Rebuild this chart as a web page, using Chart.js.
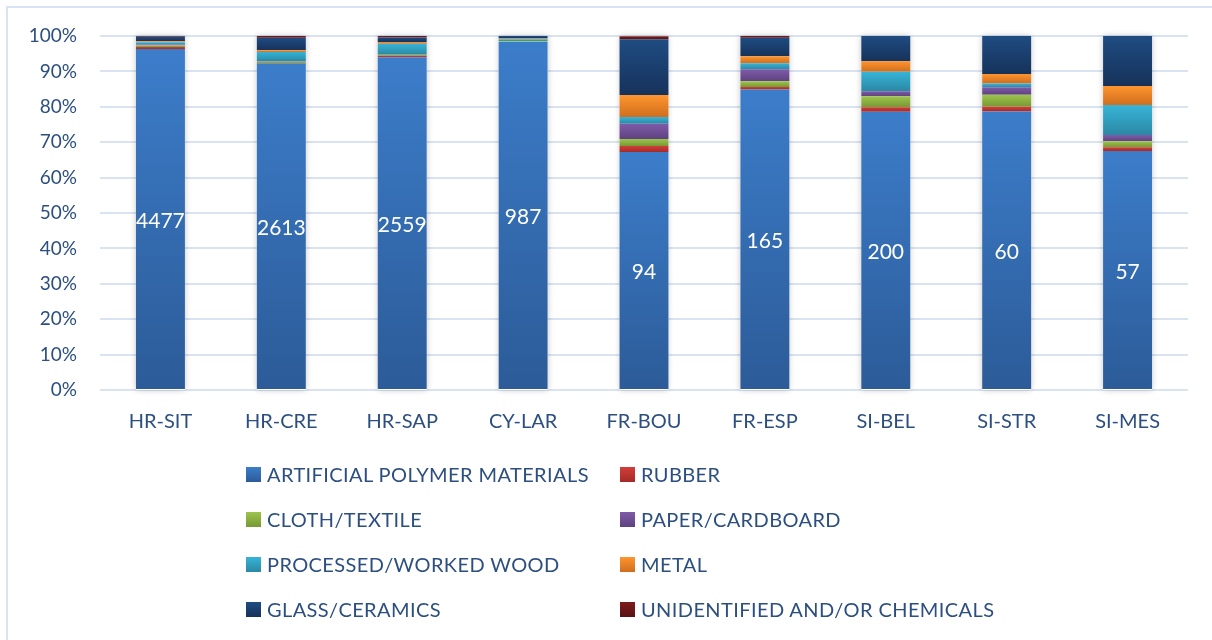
<!DOCTYPE html>
<html>
<head>
<meta charset="utf-8">
<script src="https://cdn.jsdelivr.net/npm/chart.js@4"></script>
<style>
    html, body { margin: 0; padding: 0; background: #fff; }
    #wrap { position: relative; width: 1212px; height: 640px; overflow: hidden; }
    #frame { position: absolute; left: 6px; top: 6px; width: 1220px; height: 660px;
             border-left: 2px solid #dae3f3; border-top: 2px solid #dae3f3; }
    #legend { position: absolute; left: 0; top: 0; width: 1212px; height: 640px;
              font-family: Lato, 'Open Sans', sans-serif; font-size: 20px; letter-spacing: 0.4px; color: #2c4f80; }
    .item { position: absolute; display: flex; align-items: center; height: 24px; white-space: nowrap; }
    .box { width: 15px; height: 15px; margin-right: 6px; }
</style>
</head>
<body>
<div id="wrap">
    <div id="frame"></div>
    <canvas id="chart" width="1212" height="640"></canvas>
    <div id="legend"></div>
</div>
<script>
// Categories (sites) and total item counts shown on the bars
const categories = ['HR-SIT', 'HR-CRE', 'HR-SAP', 'CY-LAR', 'FR-BOU', 'FR-ESP', 'SI-BEL', 'SI-STR', 'SI-MES'];
const itemCounts = [4477, 2613, 2559, 987, 94, 165, 200, 60, 57];

// Share of each material category (%)
const polymer      = [96.3, 92.2, 94.0, 98.3, 67.2, 84.9, 78.6, 78.7, 67.5];
const rubber       = [0.6, 0.2, 0.4, 0.0, 1.7, 0.7, 1.3, 1.3, 1.1];
const cloth        = [0.4, 0.3, 0.3, 0.2, 2.0, 1.6, 3.1, 3.4, 1.7];
const paper        = [0.3, 0.2, 0.0, 0.0, 4.3, 3.4, 1.4, 2.1, 1.7];
const wood         = [0.6, 2.6, 3.1, 0.6, 1.9, 1.7, 5.5, 1.1, 8.5];
const metal        = [0.3, 0.5, 0.5, 0.2, 6.2, 2.0, 3.0, 2.7, 5.4];
const glass        = [1.3, 3.5, 1.3, 0.7, 15.8, 5.2, 7.1, 10.7, 14.1];
const unidentified = [0.2, 0.5, 0.4, 0.0, 0.85, 0.5, 0.0, 0.0, 0.0];

const seriesNames = ['ARTIFICIAL POLYMER MATERIALS', 'RUBBER', 'CLOTH/TEXTILE', 'PAPER/CARDBOARD',
    'PROCESSED/WORKED WOOD', 'METAL', 'GLASS/CERAMICS', 'UNIDENTIFIED AND/OR CHEMICALS'];
const seriesValues = [polymer, rubber, cloth, paper, wood, metal, glass, unidentified];

// top / bottom colours of each segment gradient
const seriesColors = [
    ['#3c7dca', '#2c5b98'],
    ['#d33d3a', '#a52a28'],
    ['#9dc54c', '#779834'],
    ['#7f5ba8', '#5e4280'],
    ['#37b4d8', '#2a88a3'],
    ['#ff952e', '#d06e1e'],
    ['#1f4c82', '#16325a'],
    ['#7c1c1c', '#5a1212']
];

const textColor = '#2c4f80';
const fontFamily = "Lato, 'Open Sans', sans-serif";

function segmentFill(dsIndex) {
    const colors = seriesColors[dsIndex];
    return (ctx) => {
        const chart = ctx.chart;
        const y = chart.scales.y;
        if (!y || ctx.type !== 'data') return colors[0];
        const i = ctx.dataIndex;
        let start = 0;
        for (let d = 0; d < dsIndex; d++) start += seriesValues[d][i];
        const top = y.getPixelForValue(start + seriesValues[dsIndex][i]);
        const bottom = y.getPixelForValue(start);
        if (!isFinite(top) || !isFinite(bottom) || bottom - top < 0.5) return colors[0];
        const g = chart.ctx.createLinearGradient(0, top, 0, bottom);
        g.addColorStop(0, colors[0]);
        g.addColorStop(1, colors[1]);
        return g;
    };
}

// soft shadow behind each full stacked bar
const barShadow = {
    id: 'barShadow',
    beforeDatasetsDraw(chart) {
        const { ctx, scales: { y } } = chart;
        const meta = chart.getDatasetMeta(0);
        ctx.save();
        ctx.shadowColor = 'rgba(0, 0, 0, 0.22)';
        ctx.shadowBlur = 6;
        ctx.fillStyle = '#fff';
        meta.data.forEach((bar) => {
            const top = y.getPixelForValue(100);
            const bottom = y.getPixelForValue(0);
            ctx.fillRect(bar.x - bar.width / 2, top, bar.width, bottom - top);
        });
        ctx.restore();
    }
};

// item counts in the middle of the polymer segment
const countLabels = {
    id: 'countLabels',
    afterDatasetsDraw(chart) {
        const { ctx } = chart;
        const meta = chart.getDatasetMeta(0);
        ctx.save();
        ctx.fillStyle = '#fff';
        ctx.font = '21px ' + fontFamily;
        ctx.textAlign = 'center';
        ctx.textBaseline = 'middle';
        meta.data.forEach((bar, i) => {
            const { x, y, base } = bar.getProps(['x', 'y', 'base'], true);
            ctx.fillText(String(itemCounts[i]), x, (y + base) / 2 + 2);
        });
        ctx.restore();
    }
};

const chart = new Chart(document.getElementById('chart'), {
    type: 'bar',
    data: {
        labels: categories,
        datasets: seriesNames.map((name, d) => ({
            label: name,
            data: seriesValues[d],
            backgroundColor: segmentFill(d),
            borderWidth: 0,
            barPercentage: 0.405,
            categoryPercentage: 1
        }))
    },
    options: {
        responsive: false,
        animation: false,
        layout: { padding: { left: 0, right: 24, top: 36, bottom: 190 } },
        plugins: {
            legend: { display: false },
            tooltip: { enabled: false }
        },
        scales: {
            x: {
                stacked: true,
                grid: { display: false },
                border: { display: false },
                ticks: {
                    color: textColor,
                    font: { family: fontFamily, size: 20 },
                    padding: 12,
                    maxRotation: 0
                },
                afterFit: (scale) => { scale.height = 60; }
            },
            y: {
                stacked: true,
                min: 0,
                max: 100,
                grid: { color: '#d9e3f1', lineWidth: 2, drawTicks: false },
                border: { display: false },
                ticks: {
                    stepSize: 10,
                    color: textColor,
                    font: { family: fontFamily, size: 19 },
                    padding: 23,
                    callback: (value) => value + '%'
                },
                afterFit: (scale) => { scale.width = 100; }
            }
        }
    },
    plugins: [barShadow, countLabels]
});

// Two-column legend built from the chart's datasets
const legend = document.getElementById('legend');
chart.data.datasets.forEach((ds, d) => {
    const col = d % 2;
    const row = Math.floor(d / 2);
    const item = document.createElement('div');
    item.className = 'item';
    item.style.left = (col === 0 ? 246 : 620) + 'px';
    item.style.top = (474 + row * 45 - 12) + 'px';
    const box = document.createElement('span');
    box.className = 'box';
    box.style.background = `linear-gradient(${seriesColors[d][0]}, ${seriesColors[d][1]})`;
    const text = document.createElement('span');
    text.textContent = ds.label;
    item.appendChild(box);
    item.appendChild(text);
    legend.appendChild(item);
});
</script>
</body>
</html>
